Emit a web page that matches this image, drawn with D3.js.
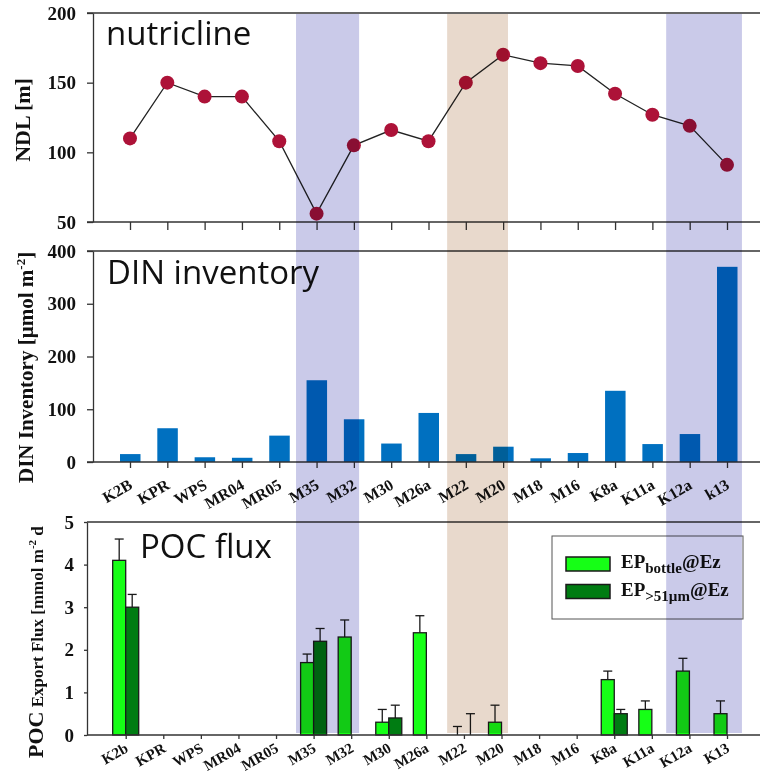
<!DOCTYPE html>
<html>
<head>
<meta charset="utf-8">
<script src="https://cdn.jsdelivr.net/npm/d3@7/dist/d3.min.js"></script>
<style>
body { margin: 0; background: #fff; }
svg { display: block; }
.axis text { font-family: "Liberation Serif", "Times New Roman", serif; font-weight: bold; fill: #111; }
.axis line, .axis path { stroke: #333; stroke-width: 1.3; }
.frame { stroke: #333; stroke-width: 1.3; }
.title { font-family: "Open Sans", "Noto Sans", sans-serif; fill: #111; }
.ylab, .legend text { font-family: "Liberation Serif", "Times New Roman", serif; font-weight: bold; fill: #111; }
</style>
</head>
<body>
<svg id="fig" width="760" height="774"></svg>
<script>
// stations, as labelled in the DIN panel and in the POC panel
const stations = ["K2B", "KPR", "WPS", "MR04", "MR05", "M35", "M32", "M30", "M26a",
                  "M22", "M20", "M18", "M16", "K8a", "K11a", "K12a", "k13"]
const pocStations = ["K2b", "KPR", "WPS", "MR04", "MR05", "M35", "M32", "M30", "M26a",
                     "M22", "M20", "M18", "M16", "K8a", "K11a", "K12a", "K13"]

// nutricline depth [m]
const ndl = [110, 150, 140, 140, 108, 56, 105, 116, 108, 150, 170, 164, 162, 142, 127, 119, 91]

// DIN inventory
const din = [15, 64, 9, 8, 50, 155, 81, 35, 93, 15, 29, 7, 17, 135, 34, 53, 370]

// POC export flux, null = no data
const epBottle    = [4.1, null, null, null, null, 1.7, 2.3, 0.3, 2.4, 0,   0.3, null, null, 1.3, 0.6, 1.5, 0.5]
const epBottleErr = [0.5, null, null, null, null, 0.2, 0.4, 0.3, 0.4, 0.2, 0.4, null, null, 0.2, 0.2, 0.3, 0.3]
const ep51        = [3.0, null, null, null, null, 2.2, null, 0.4, null, 0,   null, null, null, 0.5, null, null, null]
const ep51Err     = [0.3, null, null, null, null, 0.3, null, 0.3, null, 0.5, null, null, null, 0.1, null, null, null]

// shaded station groups (in station-index units)
const bandFrom   = [4.45, 8.5, 14.37]
const bandTo     = [6.14, 10.13, 16.4]
const bandColour = ["#cacae9", "#e8d9cc", "#cacae9"]

const yTicksNdl = [50, 100, 150, 200]
const yTicksDin = [0, 100, 200, 300, 400]
const yTicksPoc = [0, 1, 2, 3, 4, 5]

const colours = {
    dot: "#ad1238",
    din: "#0070c0",
    bottle: "#16ff16",
    big: "#007c12",
    ink: "#1a1a1a"
}

const svg = d3.select('#fig')
const W = 760

// ---------- panel 1 : nutricline ----------
const p1 = {left: 93, top: 13, bottom: 222}
const x1 = d3.scalePoint().domain(stations).range([130, 727])
const y1 = d3.scaleLinear().domain([50, 200]).range([p1.bottom, p1.top])

const g1 = svg.append('g')
g1.append('line').attr('class', 'frame')
    .attr('x1', p1.left - 6).attr('x2', W).attr('y1', p1.top).attr('y2', p1.top)
g1.append('line').attr('class', 'frame')
    .attr('x1', p1.left - 6).attr('x2', W).attr('y1', p1.bottom).attr('y2', p1.bottom)
g1.append('g').attr('class', 'axis')
    .attr('transform', 'translate(' + p1.left + ',0)')
    .call(d3.axisLeft(y1).tickValues(yTicksNdl).tickSize(6).tickPadding(11).tickSizeOuter(0))
    .selectAll('text').style('font-size', '19px')
g1.append('g').attr('class', 'axis')
    .attr('transform', 'translate(0,' + p1.bottom + ')')
    .call(d3.axisBottom(x1).tickSize(8).tickFormat(''))
    .call(g => g.select('.domain').remove())

g1.append('path')
    .datum(ndl)
    .attr('fill', 'none')
    .attr('stroke', '#222')
    .attr('stroke-width', 1.3)
    .attr('d', d3.line().x((d, i) => x1(stations[i])).y(d => y1(d)))

g1.selectAll('circle.point')
    .data(ndl)
    .join('circle')
    .attr('class', 'point')
    .attr('cx', (d, i) => x1(stations[i]))
    .attr('cy', d => y1(d))
    .attr('r', 7)
    .attr('fill', colours.dot)

g1.append('text').attr('class', 'title')
    .attr('x', 106).attr('y', 45)
    .style('font-size', '33px')
    .text('nutricline')

g1.append('text').attr('class', 'ylab')
    .attr('transform', 'translate(30,120) rotate(-90)')
    .attr('text-anchor', 'middle')
    .style('font-size', '22px')
    .text('NDL [m]')

// ---------- panel 2 : DIN inventory ----------
const p2 = {left: 93, top: 251, bottom: 462}
const x2 = d3.scalePoint().domain(stations).range([130, 727])
const y2 = d3.scaleLinear().domain([0, 400]).range([p2.bottom, p2.top])

const g2 = svg.append('g')
g2.selectAll('rect.bar')
    .data(din)
    .join('rect')
    .attr('class', 'bar')
    .attr('x', (d, i) => x2(stations[i]) - 10)
    .attr('width', 20.5)
    .attr('y', d => y2(d))
    .attr('height', d => y2(0) - y2(d))
    .attr('fill', colours.din)

g2.append('line').attr('class', 'frame')
    .attr('x1', p2.left - 6).attr('x2', W).attr('y1', p2.top).attr('y2', p2.top)
g2.append('line').attr('class', 'frame')
    .attr('x1', p2.left - 6).attr('x2', W).attr('y1', p2.bottom).attr('y2', p2.bottom)
g2.append('g').attr('class', 'axis')
    .attr('transform', 'translate(' + p2.left + ',0)')
    .call(d3.axisLeft(y2).tickValues(yTicksDin).tickSize(6).tickPadding(11).tickSizeOuter(0))
    .selectAll('text').style('font-size', '19px')
g2.append('g').attr('class', 'axis')
    .attr('transform', 'translate(0,' + p2.bottom + ')')
    .call(d3.axisBottom(x2).tickSize(6))
    .call(g => g.select('.domain').remove())
    .selectAll('text')
    .attr('y', 0).attr('dy', 0)
    .attr('transform', 'translate(3,26) rotate(-30)')
    .style('text-anchor', 'end')
    .style('font-size', '16px')

g2.append('text').attr('class', 'title')
    .attr('x', 107).attr('y', 284)
    .style('font-size', '33px')
    .text('DIN inventory')

const dinLab = g2.append('text').attr('class', 'ylab')
    .attr('transform', 'translate(33,483) rotate(-90)')
    .style('font-size', '21px')
dinLab.append('tspan').text('DIN Inventory [\u00b5mol m')
dinLab.append('tspan').attr('dy', -8).style('font-size', '13px').text('-2')
dinLab.append('tspan').attr('dy', 8).text(']')

// ---------- panel 3 : POC flux ----------
const p3 = {left: 87, top: 522, bottom: 735}
const x3 = d3.scalePoint().domain(pocStations).range([125.7, 727])
const y3 = d3.scaleLinear().domain([0, 5]).range([p3.bottom, p3.top])
const bw = 13

const g3 = svg.append('g')

function series(values, errs, offset, fill) {
    const rows = values.map((v, i) => ({v, e: errs[i], s: pocStations[i]}))
        .filter(d => d.v !== null)
    const cx = d => x3(d.s) + offset + bw / 2
    g3.append('g').selectAll('line.err')
        .data(rows.filter(d => d.e))
        .join('line')
        .attr('x1', cx).attr('x2', cx)
        .attr('y1', d => y3(d.v)).attr('y2', d => y3(d.v + d.e))
        .attr('stroke', colours.ink).attr('stroke-width', 1.3)
    g3.append('g').selectAll('line.cap')
        .data(rows.filter(d => d.e))
        .join('line')
        .attr('x1', d => cx(d) - 4.5).attr('x2', d => cx(d) + 4.5)
        .attr('y1', d => y3(d.v + d.e)).attr('y2', d => y3(d.v + d.e))
        .attr('stroke', colours.ink).attr('stroke-width', 1.3)
    g3.append('g').selectAll('rect')
        .data(rows.filter(d => d.v > 0))
        .join('rect')
        .attr('x', d => x3(d.s) + offset)
        .attr('width', bw)
        .attr('y', d => y3(d.v))
        .attr('height', d => y3(0) - y3(d.v))
        .attr('fill', fill)
        .attr('stroke', colours.ink)
        .attr('stroke-width', 1.3)
}
series(epBottle, epBottleErr, -bw, colours.bottle)
series(ep51, ep51Err, 0, colours.big)

g3.append('line').attr('class', 'frame')
    .attr('x1', p3.left).attr('x2', W).attr('y1', p3.top).attr('y2', p3.top)
g3.append('line').attr('class', 'frame')
    .attr('x1', p3.left).attr('x2', W).attr('y1', p3.bottom).attr('y2', p3.bottom)
g3.append('g').attr('class', 'axis')
    .attr('transform', 'translate(' + p3.left + ',0)')
    .call(d3.axisLeft(y3).tickValues(yTicksPoc).tickFormat(d3.format('d'))
        .tickSize(3).tickPadding(10).tickSizeOuter(0))
    .selectAll('text').style('font-size', '19px')
g3.append('g').attr('class', 'axis')
    .attr('transform', 'translate(0,' + p3.bottom + ')')
    .call(d3.axisBottom(x3).tickSize(4))
    .call(g => g.select('.domain').remove())
    .selectAll('text')
    .attr('y', 0).attr('dy', 0)
    .attr('transform', 'translate(3,16) rotate(-30)')
    .style('text-anchor', 'end')
    .style('font-size', '15px')

g3.append('text').attr('class', 'title')
    .attr('x', 140).attr('y', 558)
    .style('font-size', '33px')
    .text('POC flux')

const pocLab = g3.append('text').attr('class', 'ylab')
    .attr('transform', 'translate(43,758) rotate(-90)')
pocLab.append('tspan').style('font-size', '22px').text('POC')
pocLab.append('tspan').style('font-size', '17px').text(' Export Flux [mmol m')
pocLab.append('tspan').attr('dy', -7).style('font-size', '11px').text('-2')
pocLab.append('tspan').attr('dy', 7).style('font-size', '17px').text(' d')

// legend
const lg = g3.append('g').attr('class', 'legend')
lg.append('rect')
    .attr('x', 552).attr('y', 536).attr('width', 191).attr('height', 83)
    .attr('fill', '#fff').attr('stroke', '#555').attr('stroke-width', 1)
const legendItems = [
    {fill: colours.bottle, sub: 'bottle'},
    {fill: colours.big, sub: '>51\u00b5m'}
]
legendItems.forEach((it, i) => {
    const y = 557 + i * 27.5
    lg.append('rect')
        .attr('x', 566).attr('y', y).attr('width', 44).attr('height', 14)
        .attr('fill', it.fill).attr('stroke', colours.ink).attr('stroke-width', 1.5)
    const t = lg.append('text').attr('x', 621).attr('y', y + 11).style('font-size', '19px')
    t.append('tspan').text('EP')
    t.append('tspan').attr('dy', 5).style('font-size', '15px').text(it.sub)
    t.append('tspan').attr('dy', -5).text('@Ez')
})

// ---------- shaded station groups, laid over all three panels ----------
const xIdx = d3.scaleLinear().domain([0, stations.length - 1]).range([130, 727])
svg.append('g')
    .style('mix-blend-mode', 'multiply')
    .selectAll('rect')
    .data(bandFrom)
    .join('rect')
    .attr('x', d => xIdx(d))
    .attr('width', (d, i) => xIdx(bandTo[i]) - xIdx(d))
    .attr('y', p1.top + 1)
    .attr('height', 733 - p1.top - 1)
    .attr('fill', (d, i) => bandColour[i])
</script>
</body>
</html>
